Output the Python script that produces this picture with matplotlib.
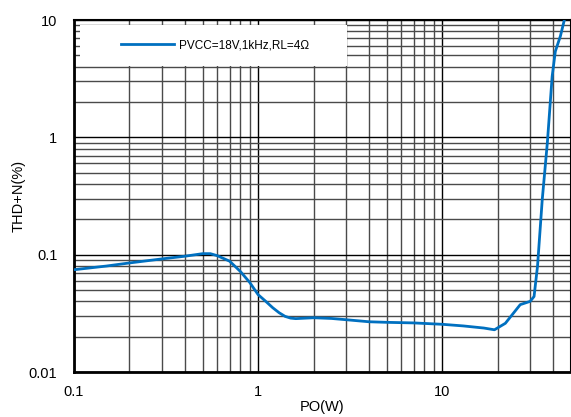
import numpy as np
import matplotlib
matplotlib.use('Agg')
import matplotlib.pyplot as plt
from matplotlib.patches import Rectangle

plt.rcParams['font.family'] = ['Liberation Sans', 'DejaVu Sans']

# THD+N vs output power
po = [0.1, 0.15, 0.2, 0.3, 0.4, 0.5, 0.55, 0.6, 0.7, 0.8, 0.9, 1.0, 1.1, 1.2, 1.3, 1.4, 1.5, 1.6,
      2.0, 2.5, 3.0, 4.0, 5.0, 7.0, 10.0, 13.0, 16.8, 19.2, 22.0, 26.5, 30.0, 31.5,
      32.9, 34.9, 37.2, 39.5, 41.1, 43.8, 46.0]
thd = [0.0744, 0.080, 0.085, 0.092, 0.097, 0.102, 0.102, 0.098, 0.088, 0.072, 0.058, 0.0456,
       0.040, 0.0353, 0.032, 0.0298, 0.0288, 0.0285,
       0.0290, 0.0286, 0.0279, 0.0268, 0.0265, 0.0262, 0.0255, 0.0247, 0.0237, 0.0229,
       0.026, 0.0375, 0.040, 0.044,
       0.080, 0.295, 0.90, 3.3, 5.4, 7.3, 10.0]
label = 'PVCC=18V,1kHz,RL=4Ω'

fig = plt.figure(figsize=(5.71, 4.17), dpi=100)
ax = fig.add_axes([74/571, 45/417, 497/571, 352/417])

ax.set_xscale('log')
ax.set_yscale('log')
ax.set_xlim(0.1, 50)
ax.set_ylim(0.01, 10)

ax.grid(True, which='major', color='black', lw=1.0)
ax.grid(True, which='minor', color='#4a4a4a', lw=1.0)

# white box behind the legend
ax.add_patch(Rectangle((6/497, (372-66)/352), (347-80)/497, 41/352,
                       transform=ax.transAxes, facecolor='white', edgecolor='none', zorder=2))

ax.plot(po, thd, color='#0070C0', lw=2, label=label, zorder=3)

leg = ax.legend(loc='center', bbox_to_anchor=(0.283, 0.928), frameon=False,
                fontsize=8.5, handlelength=4.5, handletextpad=0.4)
leg.set_zorder(5)

ax.set_xticks([0.1, 1, 10])
ax.set_xticklabels(['0.1', '1', '10'])
ax.set_yticks([0.01, 0.1, 1, 10])
ax.set_yticklabels(['0.01', '0.1', '1', '10'])
ax.tick_params(axis='x', which='both', length=0, labelsize=10.5, pad=9)
ax.tick_params(axis='y', which='both', length=0, labelsize=10.5, pad=12)

for s in ['left', 'bottom']:
    ax.spines[s].set_linewidth(2)
ax.spines['top'].set_linewidth(1.5)
ax.spines['right'].set_linewidth(1.5)

ax.set_xlabel('PO(W)', fontsize=10.5, labelpad=1)
ax.set_ylabel('THD+N(%)', fontsize=10.5, labelpad=2)

fig.savefig('out.png', dpi=100)
